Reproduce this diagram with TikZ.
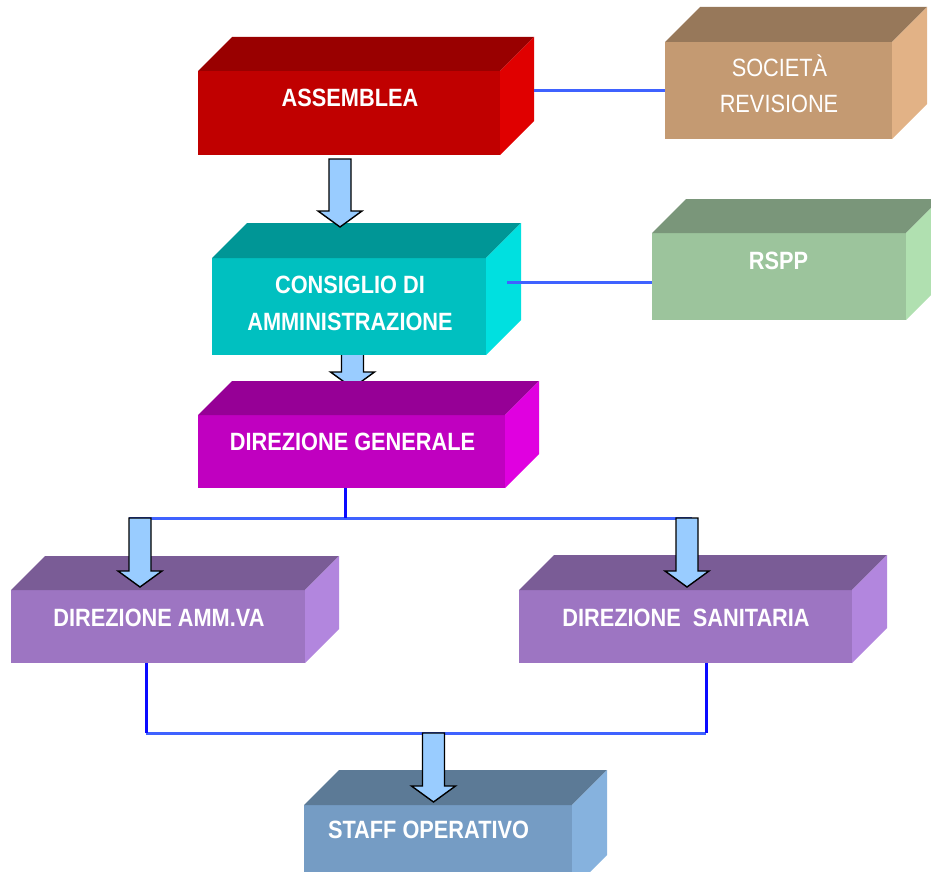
\documentclass[tikz,border=0pt]{standalone}
\usepackage{fontspec}
\setmainfont{Liberation Sans}[FakeStretch=0.87]
\usetikzlibrary{calc}
\definecolor{linkblue}{HTML}{3F62FF}
\definecolor{dropblue}{HTML}{0A0AFF}
\definecolor{arrowfill}{HTML}{99CCFF}
\definecolor{asmF}{HTML}{C00000}\definecolor{asmT}{HTML}{990000}\definecolor{asmS}{HTML}{E00000}
\definecolor{socF}{HTML}{C49A72}\definecolor{socT}{HTML}{97785A}\definecolor{socS}{HTML}{E2B286}
\definecolor{cdaF}{HTML}{00C0C0}\definecolor{cdaT}{HTML}{009696}\definecolor{cdaS}{HTML}{00E0E0}
\definecolor{rspF}{HTML}{9CC49C}\definecolor{rspT}{HTML}{7A967A}\definecolor{rspS}{HTML}{B0E0B0}
\definecolor{dgF}{HTML}{C000C0}\definecolor{dgT}{HTML}{960096}\definecolor{dgS}{HTML}{E000E0}
\definecolor{dirF}{HTML}{9D75C2}\definecolor{dirT}{HTML}{7A5C96}\definecolor{dirS}{HTML}{B286DE}
\definecolor{stfF}{HTML}{759CC4}\definecolor{stfT}{HTML}{5C7A96}\definecolor{stfS}{HTML}{86B2DE}
\tikzset{
  front/.style={rectangle, inner sep=0pt, outer sep=0pt, draw=none},
  lbl/.style={text=white, font=\fontsize{25}{30}\selectfont\bfseries, anchor=base, inner sep=0pt},
  lblreg/.style={text=white, font=\fontsize{25}{30}\selectfont, anchor=base, inner sep=0pt},
  link/.style={draw=linkblue, line width=3pt},
  drop/.style={draw=dropblue, line width=3pt},
  barrow/.style={fill=arrowfill, draw=black, line width=1.4pt, line join=miter},
}
% top and side faces of a prism whose front face is node #1
\newcommand\prismfaces[4]{%
  \fill[#3] (#1.north west) -- ++(#2,-#2) -- ($(#1.north east)+(#2,-#2)$) -- (#1.north east) -- cycle;
  \fill[#4] (#1.north east) -- ++(#2,-#2) -- ($(#1.south east)+(#2,-#2)$) -- (#1.south east) -- cycle;
}
% block arrow from coordinate #1 (top of shaft) down to coordinate #2 (tip)
\newcommand\blockarrow[2]{%
  \draw[barrow] let \p1=(#1), \p2=(#2) in
    (\x1-11pt,\y1) -- (\x1+11pt,\y1) -- (\x1+11pt,\y2+16pt) -- (\x1+22pt,\y2+16pt)
    -- (\x1,\y2) -- (\x1-22pt,\y2+16pt) -- (\x1-11pt,\y2+16pt) -- cycle;
}
\begin{document}
\begin{tikzpicture}[x=1pt,y=-1pt]
\useasboundingbox (0,0) rectangle (931,872);
\clip (0,0) rectangle (931,872);

% arrow hidden partly behind the boxes
\coordinate (a2s) at (352.5,350);
\coordinate (a2e) at (352.5,388);
\blockarrow{a2s}{a2e}

% front faces
\node[front, fill=asmF, minimum width=302, minimum height=84] (asm) at (349,113) {};
\node[front, fill=socF, minimum width=227, minimum height=97] (soc) at (778.5,90.5) {};
\node[front, fill=cdaF, minimum width=274, minimum height=97] (cda) at (349,306.5) {};
\node[front, fill=rspF, minimum width=254, minimum height=87] (rspp) at (779,276.5) {};
\node[front, fill=dgF, minimum width=307, minimum height=73] (dg) at (351.5,451.5) {};
\node[front, fill=dirF, minimum width=294, minimum height=73] (amm) at (158,626.5) {};
\node[front, fill=dirF, minimum width=333, minimum height=73] (san) at (685.5,626.5) {};
\node[front, fill=stfF, minimum width=268, minimum height=85] (stf) at (438,847.5) {};

% top and side faces
\prismfaces{asm}{34}{asmT}{asmS}
\prismfaces{soc}{35}{socT}{socS}
\prismfaces{cda}{35}{cdaT}{cdaS}
\prismfaces{rspp}{34}{rspT}{rspS}
\prismfaces{dg}{34}{dgT}{dgS}
\prismfaces{amm}{34}{dirT}{dirS}
\prismfaces{san}{35}{dirT}{dirS}
\prismfaces{stf}{35}{stfT}{stfS}

% labels
\node[lbl] at (350,107) {ASSEMBLEA};
\node[lblreg] at (779.5,77) {SOCIETÀ};
\node[lblreg] at (779,113) {REVISIONE};
\node[lbl] at (350,293) {CONSIGLIO DI};
\node[lbl] at (350,330) {AMMINISTRAZIONE};
\node[lbl] at (778.5,269) {RSPP};
\node[lbl] at (352.5,450) {DIREZIONE GENERALE};
\node[lbl] at (159,626) {DIREZIONE AMM.VA};
\node[lbl] at (686,626) {DIREZIONE\ \ SANITARIA};
\node[lbl] at (428.5,838) {STAFF OPERATIVO};

% thin connectors
\coordinate (asmback) at ($(asm.east)+(34,0)$);
\draw[link] (soc.west) -- (soc.west -| asmback);
\draw[link] ([yshift=-5.5pt]rspp.west) -- ++(-145,0);

\coordinate (j1) at (345,518);
\coordinate (b1) at (129,518);
\coordinate (b2) at (692,518);
\draw[link] (b1) -- (b2);
\draw[drop] (j1 |- dg.south) -- (j1);

\coordinate (j2) at (146,733);
\coordinate (j3) at (706,733);
\draw[link] (j2) -- (j3);
\draw[drop] (j2 |- amm.south) -- (j2);
\draw[drop] (j3 |- san.south) -- (j3);

% block arrows
\coordinate (a1s) at (340,159);
\coordinate (a1e) at (340,227);
\blockarrow{a1s}{a1e}
\coordinate (a3s) at (140,518);
\coordinate (a3e) at (140,587);
\blockarrow{a3s}{a3e}
\coordinate (a4s) at (687,518);
\coordinate (a4e) at (687,587);
\blockarrow{a4s}{a4e}
\coordinate (a5s) at (433.5,733);
\coordinate (a5e) at (433.5,802);
\blockarrow{a5s}{a5e}
\end{tikzpicture}
\end{document}
